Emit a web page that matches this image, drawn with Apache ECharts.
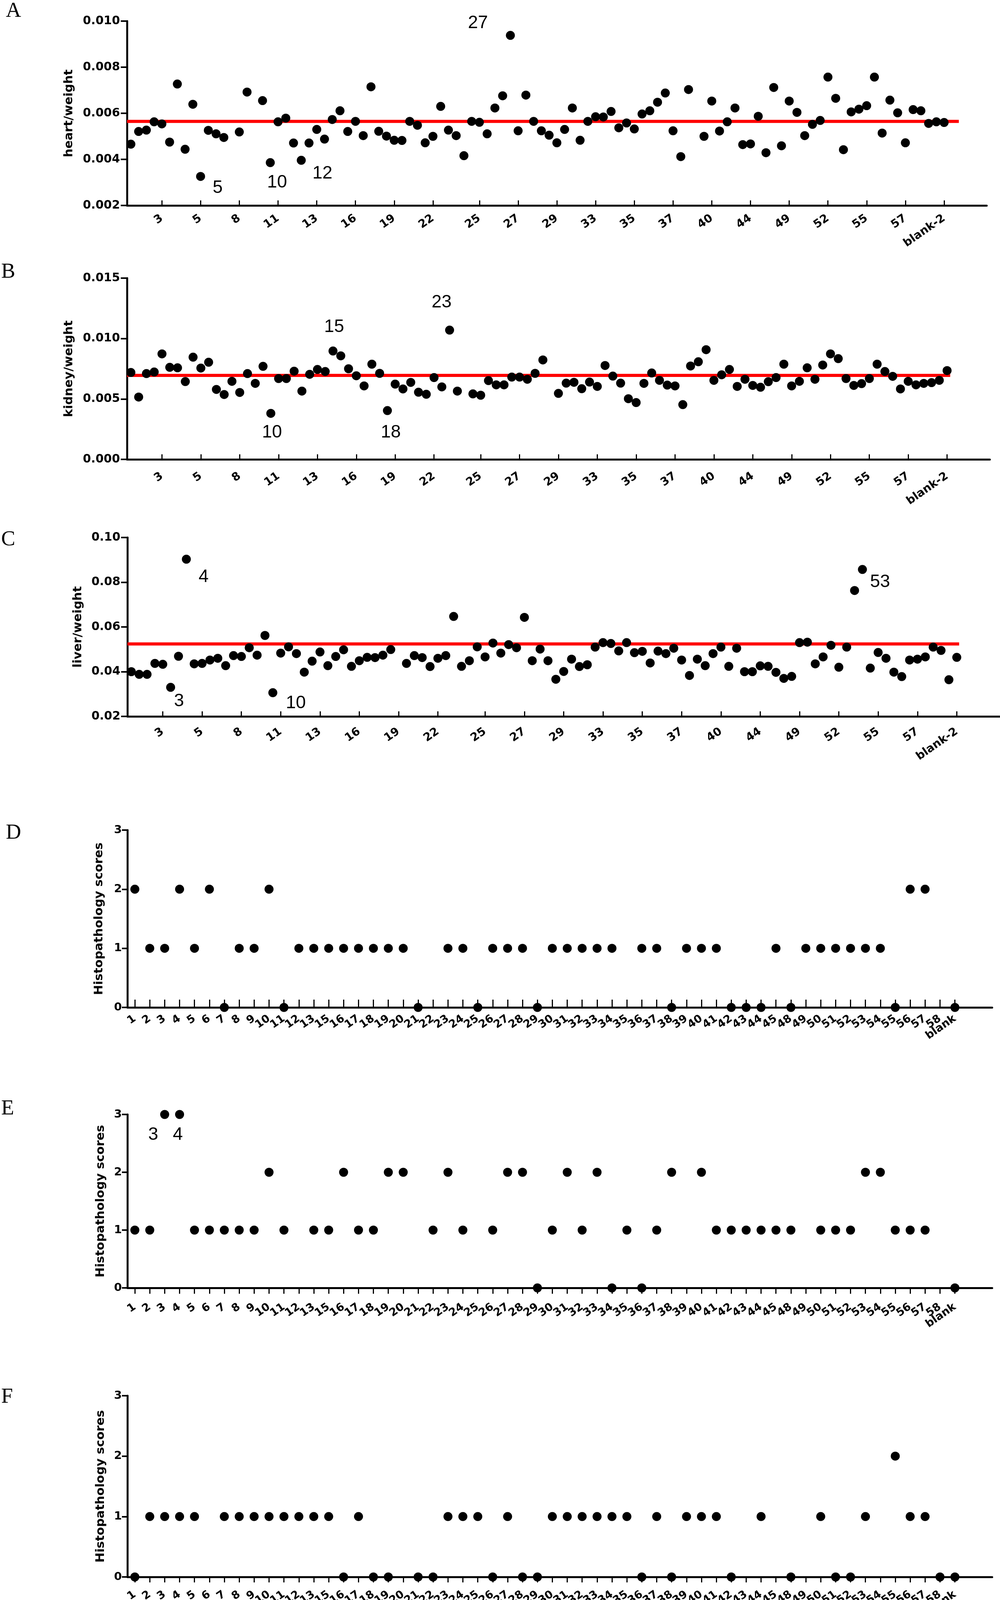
<!DOCTYPE html>
<html>
<head>
<meta charset="utf-8">
<script src="https://cdn.jsdelivr.net/npm/echarts@6/dist/echarts.min.js"></script>
<style>
html,body{margin:0;padding:0;background:#ffffff;}
#chart{width:2559px;height:4144px;}
</style>
</head>
<body>
<div id="chart"></div>
<script>
// ---------- DATA ----------
// sample axis for panels A-C (only every 5th sample is labelled; '' = unlabelled sample / empty slot)
const sampleCategories = [
  '', '', '', '', '3', '', '', '', '', '5',
  '', '', '', '', '8', '', '', '', '', '11',
  '', '', '', '', '13', '', '', '', '', '16',
  '', '', '', '', '19', '', '', '', '', '22',
  '', '', '', '', '', '25', '', '', '', '',
  '27', '', '', '', '', '29', '', '', '', '',
  '33', '', '', '', '', '35', '', '', '', '',
  '37', '', '', '', '', '40', '', '', '', '',
  '44', '', '', '', '', '49', '', '', '', '',
  '52', '', '', '', '', '55', '', '', '', '',
  '57', '', '', '', '', 'blank-2',
  '', '', '', '', ''
];
const heartWeight = [
  0.00466, 0.00521, 0.00527, 0.00563, 0.00554, 0.00475, 0.00727, 0.00444, 0.00639, 0.00326,
  0.00526, 0.00511, 0.00495, null, 0.00519, 0.00692, null, 0.00655, 0.00386, 0.00563,
  0.00579, 0.00471, 0.00396, 0.00471, 0.00530, 0.00488, 0.00573, 0.00611, 0.00521, 0.00565,
  0.00503, 0.00715, 0.00522, 0.00501, 0.00483, 0.00482, 0.00565, 0.00548, 0.00472, 0.00500,
  0.00630, 0.00527, 0.00503, 0.00416, 0.00565, 0.00561, 0.00511, 0.00623, 0.00676, 0.00938,
  0.00524, 0.00679, 0.00565, 0.00524, 0.00505, 0.00472, 0.00530, 0.00623, 0.00483, 0.00565,
  0.00585, 0.00584, 0.00608, 0.00537, 0.00558, 0.00532, 0.00597, 0.00611, 0.00648, 0.00688,
  0.00524, 0.00412, 0.00703, null, 0.00500, 0.00653, 0.00523, 0.00563, 0.00623, 0.00464,
  0.00467, 0.00587, 0.00429, 0.00712, 0.00459, 0.00653, 0.00604, 0.00503, 0.00552, 0.00569,
  0.00757, 0.00665, 0.00442, 0.00606, 0.00618, 0.00633, 0.00757, 0.00514, 0.00657, 0.00602,
  0.00472, 0.00616, 0.00611, 0.00556, 0.00563, 0.00560
];
const kidneyWeight = [
  0.00719, 0.00516, 0.00710, 0.00723, 0.00873, 0.00762, 0.00758, 0.00644, 0.00846, 0.00756,
  0.00804, 0.00579, 0.00537, 0.00646, 0.00554, 0.00710, 0.00629, 0.00770, 0.00381, 0.00669,
  0.00669, 0.00730, 0.00565, 0.00704, 0.00744, 0.00727, 0.00897, 0.00857, 0.00750, 0.00692,
  0.00608, 0.00788, 0.00712, 0.00404, 0.00623, 0.00583, 0.00637, 0.00556, 0.00539, 0.00677,
  0.00600, 0.01070, 0.00565, null, 0.00542, 0.00531, 0.00652, 0.00617, 0.00617, 0.00681,
  0.00681, 0.00663, 0.00712, 0.00823, null, 0.00546, 0.00631, 0.00638, 0.00585, 0.00640,
  0.00604, 0.00777, 0.00689, 0.00631, 0.00502, 0.00470, 0.00629, 0.00715, 0.00654, 0.00615,
  0.00608, 0.00453, 0.00773, 0.00808, 0.00908, 0.00654, 0.00700, 0.00744, 0.00604, 0.00663,
  0.00612, 0.00597, 0.00643, 0.00677, 0.00788, 0.00608, 0.00646, 0.00758, 0.00663, 0.00781,
  0.00873, 0.00834, 0.00669, 0.00612, 0.00627, 0.00669, 0.00788, 0.00727, 0.00687, 0.00583,
  0.00646, 0.00617, 0.00629, 0.00635, 0.00654, 0.00735
];
const liverWeight = [
  0.0400, 0.0388, 0.0388, 0.0437, 0.0433, 0.0330, 0.0469, 0.0903, 0.0435, 0.0437,
  0.0452, 0.0460, 0.0427, 0.0472, 0.0468, 0.0507, 0.0474, 0.0562, 0.0306, 0.0483,
  0.0511, 0.0481, 0.0398, 0.0447, 0.0488, 0.0427, 0.0468, 0.0498, 0.0424, 0.0449,
  0.0464, 0.0463, 0.0474, 0.0499, null, 0.0437, 0.0472, 0.0463, 0.0423, 0.0460,
  0.0472, 0.0647, 0.0424, 0.0449, 0.0511, 0.0466, 0.0528, 0.0483, 0.0521, 0.0507,
  0.0643, 0.0449, 0.0501, 0.0449, 0.0366, 0.0401, 0.0456, 0.0423, 0.0431, 0.0510,
  0.0530, 0.0526, 0.0493, 0.0530, 0.0485, 0.0491, 0.0439, 0.0492, 0.0481, 0.0505,
  0.0452, 0.0383, 0.0456, 0.0427, 0.0481, 0.0510, 0.0424, 0.0505, 0.0400, 0.0400,
  0.0426, 0.0424, 0.0397, 0.0370, 0.0379, 0.0530, 0.0532, 0.0435, 0.0466, 0.0518,
  0.0420, 0.0510, 0.0763, 0.0857, 0.0416, 0.0486, 0.0460, 0.0398, 0.0378, 0.0452,
  0.0456, 0.0466, 0.0510, 0.0495, 0.0364, 0.0464
];
// red mean lines (value) for A, B, C
const meanLines = [0.00565, 0.00695, 0.0524];
// outlier annotations
const outlierNotesA = ['27', '5', '10', '12'];
const outlierNotesB = ['23', '15', '10', '18'];
const outlierNotesC = ['4', '3', '10', '53'];
const outlierNotesE = ['3', '4'];

// panels D-F
const scoreCategories = ['1','2','3','4','5','6','7','8','9','10','11','12','13','15','16','17','18','19','20','21','22','23','24','25','26','27','28','29','30','31','32','33','34','35','36','37','38','39','40','41','42','43','44','45','48','49','50','51','52','53','54','55','56','57','58','blank','',''];
const scoresD = [2,1,1,2,1,2,0,1,1,2, 0,1,1,1,1,1,1,1,1,0, null,1,1,0,1,1,1,0,1,1, 1,1,1,null,1,1,0,1,1,1, 0,0,0,1,0,1,1,1,1,1, 1,0,2,2,null,0];
const scoresE = [1,1,3,3,1,1,1,1,1,2, 1,null,1,1,2,1,1,2,2,null, 1,2,1,null,1,2,2,0,1,2, 1,2,0,1,0,1,2,null,2,1, 1,1,1,1,1,null,1,1,1,2, 2,1,1,1,null,0];
const scoresF = [0,1,1,1,1,null,1,1,1,1, 1,1,1,1,0,1,0,0,null,0, 0,1,1,1,0,1,0,0,1,1, 1,1,1,1,0,1,0,1,1,1, 0,null,1,null,0,null,1,0,0,1, null,2,1,1,0,0];

// ---------- BUILD ----------
const BOLD = 'DejaVu Sans';
const uniq = arr => arr.map((c, i) => (c === '' ? '\u200b' + i : c));
const isReal = v => !(typeof v === 'string' && v.charAt(0) === '\u200b');
const fmtCat = v => (isReal(v) ? v : '');

const panels = [
  {top: 54,   height: 472, left: 325, width: 2200, ymin: 0.002, ymax: 0.010, step: 0.002, dec: 3, name: 'heart/weight',  gap: 133, margin: 30, data: heartWeight,  mean: meanLines[0], lineEnd: 107.4},
  {top: 712,  height: 464, left: 325, width: 2208, ymin: 0,     ymax: 0.015, step: 0.005, dec: 3, name: 'kidney/weight', gap: 133, margin: 40, data: kidneyWeight, mean: meanLines[1], lineEnd: 105.9},
  {top: 1376, height: 458, left: 326, width: 2233, ymin: 0.02,  ymax: 0.10,  step: 0.02,  dec: 2, name: 'liver/weight',  gap: 111, margin: 36, data: liverWeight,  mean: meanLines[2], lineEnd: 105.8}
];
const scorePanels = [
  {top: 2125, height: 454, data: scoresD, inside: true,  tickLen: 20, margin: 26, gap: 57},
  {top: 2853, height: 444, data: scoresE, inside: false, tickLen: 15, margin: 46, gap: 53},
  {top: 3573, height: 464, data: scoresF, inside: false, tickLen: 14, margin: 42, gap: 53}
];

const grid = [], xAxis = [], yAxis = [], series = [];
const axisLine = {show: true, lineStyle: {color: '#000', width: 5}};
const dot = {color: '#000', opacity: 1};
const catA = uniq(sampleCategories);

panels.forEach((p, k) => {
  grid.push({left: p.left, top: p.top, width: p.width, height: p.height});
  xAxis.push({
    type: 'category', gridIndex: k, data: catA, boundaryGap: true,
    axisLine: axisLine,
    axisTick: {show: true, inside: true, length: 13, alignWithLabel: true, lineStyle: {color: '#000', width: 3},
               interval: (i, v) => isReal(v)},
    axisLabel: {interval: 0, formatter: fmtCat, rotate: 35, margin: p.margin, color: '#000',
                fontFamily: BOLD, fontWeight: 'bold', fontSize: 29},
    splitLine: {show: false}
  });
  xAxis.push({type: 'value', gridIndex: k, min: 0, max: catA.length, show: false});
  yAxis.push({
    type: 'value', gridIndex: k, min: p.ymin, max: p.ymax, interval: p.step,
    name: p.name, nameLocation: 'middle', nameGap: p.gap,
    nameTextStyle: {color: '#000', fontFamily: BOLD, fontWeight: 'bold', fontSize: 31},
    axisLine: axisLine,
    axisTick: {show: true, length: 16, lineStyle: {color: '#000', width: 4}},
    axisLabel: {formatter: v => v.toFixed(p.dec), margin: 18, color: '#000',
                fontFamily: BOLD, fontWeight: 'bold', fontSize: 30},
    splitLine: {show: false}
  });
  series.push({
    type: 'line', xAxisIndex: 2 * k + 1, yAxisIndex: k, symbol: 'none', silent: true, z: 1,
    data: [[0, p.mean], [p.lineEnd, p.mean]],
    lineStyle: {color: '#ff0000', width: 8, opacity: 1}
  });
  series.push({
    type: 'scatter', xAxisIndex: 2 * k, yAxisIndex: k, symbol: 'circle', symbolSize: 23, z: 3, clip: false,
    itemStyle: dot, emphasis: {disabled: true}, data: p.data
  });
});

const catS = uniq(scoreCategories);
scorePanels.forEach((p, j) => {
  const gi = 3 + j;
  grid.push({left: 326, top: p.top, width: 2213, height: p.height});
  xAxis.push({
    type: 'category', gridIndex: gi, data: catS, boundaryGap: true,
    axisLine: axisLine,
    axisTick: {show: true, inside: p.inside, length: p.tickLen, alignWithLabel: true, lineStyle: {color: '#000', width: 3},
               interval: (i, v) => isReal(v)},
    axisLabel: {interval: 0, formatter: fmtCat, rotate: 35, margin: p.margin, color: '#000',
                fontFamily: BOLD, fontWeight: 'bold', fontSize: 28},
    splitLine: {show: false}
  });
  yAxis.push({
    type: 'value', gridIndex: gi, min: 0, max: 3, interval: 1,
    name: 'Histopathology scores', nameLocation: 'middle', nameGap: p.gap,
    nameTextStyle: {color: '#000', fontFamily: BOLD, fontWeight: 'bold', fontSize: 31},
    axisLine: axisLine,
    axisTick: {show: true, length: 14, lineStyle: {color: '#000', width: 4}},
    axisLabel: {margin: 14, color: '#000', fontFamily: BOLD, fontWeight: 'bold', fontSize: 29},
    splitLine: {show: false}
  });
  series.push({
    type: 'scatter', xAxisIndex: 6 + j, yAxisIndex: gi, symbol: 'circle', symbolSize: 23, z: 3, clip: false,
    itemStyle: dot, emphasis: {disabled: true}, data: p.data
  });
});

// ---------- GRAPHIC TEXT (panel letters, outlier notes) ----------
const letter = (t, x, y) => ({type: 'text', left: x, top: y,
  style: {text: t, font: '54px "Liberation Serif"', fill: '#000'}});
const note = (t, x, y) => ({type: 'text', x: x, y: y,
  style: {text: t, font: '46px "Liberation Sans"', fill: '#000', textAlign: 'center', textVerticalAlign: 'middle'}});

const graphic = [
  letter('A', 15, 2), letter('B', 3, 670), letter('C', 3, 1355),
  letter('D', 15, 2106), letter('E', 3, 2812), letter('F', 3, 3550),
  note(outlierNotesA[0], 1223, 59), note(outlierNotesA[1], 557, 481), note(outlierNotesA[2], 709, 467), note(outlierNotesA[3], 825, 444),
  note(outlierNotesB[0], 1130, 774), note(outlierNotesB[1], 855, 837), note(outlierNotesB[2], 696, 1107), note(outlierNotesB[3], 1000, 1107),
  note(outlierNotesC[0], 521, 1477), note(outlierNotesC[1], 458, 1795), note(outlierNotesC[2], 757, 1800), note(outlierNotesC[3], 2252, 1490),
  note(outlierNotesE[0], 392, 2905), note(outlierNotesE[1], 455, 2905)
];

const chart = echarts.init(document.getElementById('chart'), null, {renderer: 'canvas'});
chart.setOption({
  backgroundColor: '#ffffff',
  animation: false,
  grid: grid, xAxis: xAxis, yAxis: yAxis, series: series, graphic: graphic
});
</script>
</body>
</html>
